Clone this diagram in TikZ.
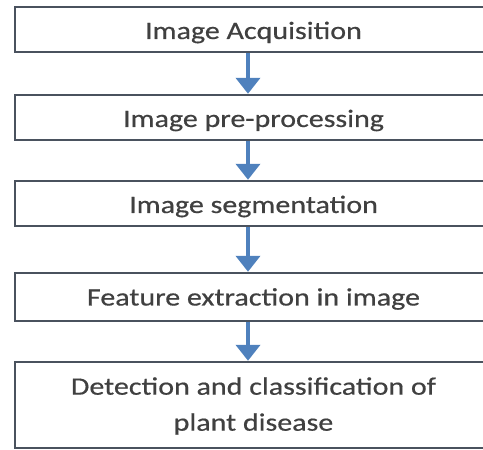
\documentclass[tikz,border=0pt]{standalone}
\usepackage{fontspec}
\setmainfont[FakeStretch=1.2,FakeBold=0.5]{Carlito}
\usetikzlibrary{arrows.meta}
\definecolor{boxline}{HTML}{4A525E}
\definecolor{flowblue}{HTML}{4F81BD}
\definecolor{txt}{HTML}{404040}
\tikzset{
  stagebox/.style={draw=boxline, line width=2.4pt, fill=white, inner sep=0pt,
    minimum width=477pt},
  stagetext/.style={align=center, text=txt, inner sep=0pt,
    font=\fontsize{25}{36}\selectfont},
  flow/.style={draw=flowblue, line width=4.5pt,
    -{Triangle[width=24pt,length=16pt]}}
}
\begin{document}
\begin{tikzpicture}[x=1pt,y=-1pt]
  \useasboundingbox (0,0) rectangle (483,450);
  \clip (0,0) rectangle (483,450);
  % the five stages
  \node[stagebox, minimum height=45pt] (acq) at (253.5,29.5) {};
  \node[stagebox, minimum height=45pt] (pre) at (253.5,117.5) {};
  \node[stagebox, minimum height=45pt] (seg) at (253.5,203.5) {};
  \node[stagebox, minimum height=48pt] (feat) at (253.5,297) {};
  \node[stagebox, minimum height=86pt] (det) at (253.5,405) {};
  % their captions, set a little below the box centres
  \node[stagetext] (acqt) at ([yshift=-3pt]acq.center) {Image Acquisition};
  \node[stagetext] (pret) at ([yshift=-3pt]pre.center) {Image pre-processing};
  \node[stagetext] (segt) at ([yshift=-3pt]seg.center) {Image segmentation};
  \node[stagetext] (featt) at ([yshift=-2pt]feat.center) {Feature extraction in image};
  \node[stagetext] (dett) at ([yshift=-1pt]det.center) {Detection and classification of\\plant disease};
  % flow arrows between consecutive stages
  \foreach \a/\b in {acq/pre, pre/seg, seg/feat, feat/det}
    \draw[flow] ([xshift=-5.5pt]\a.south) -- ([xshift=-5.5pt]\b.north);
\end{tikzpicture}
\end{document}
